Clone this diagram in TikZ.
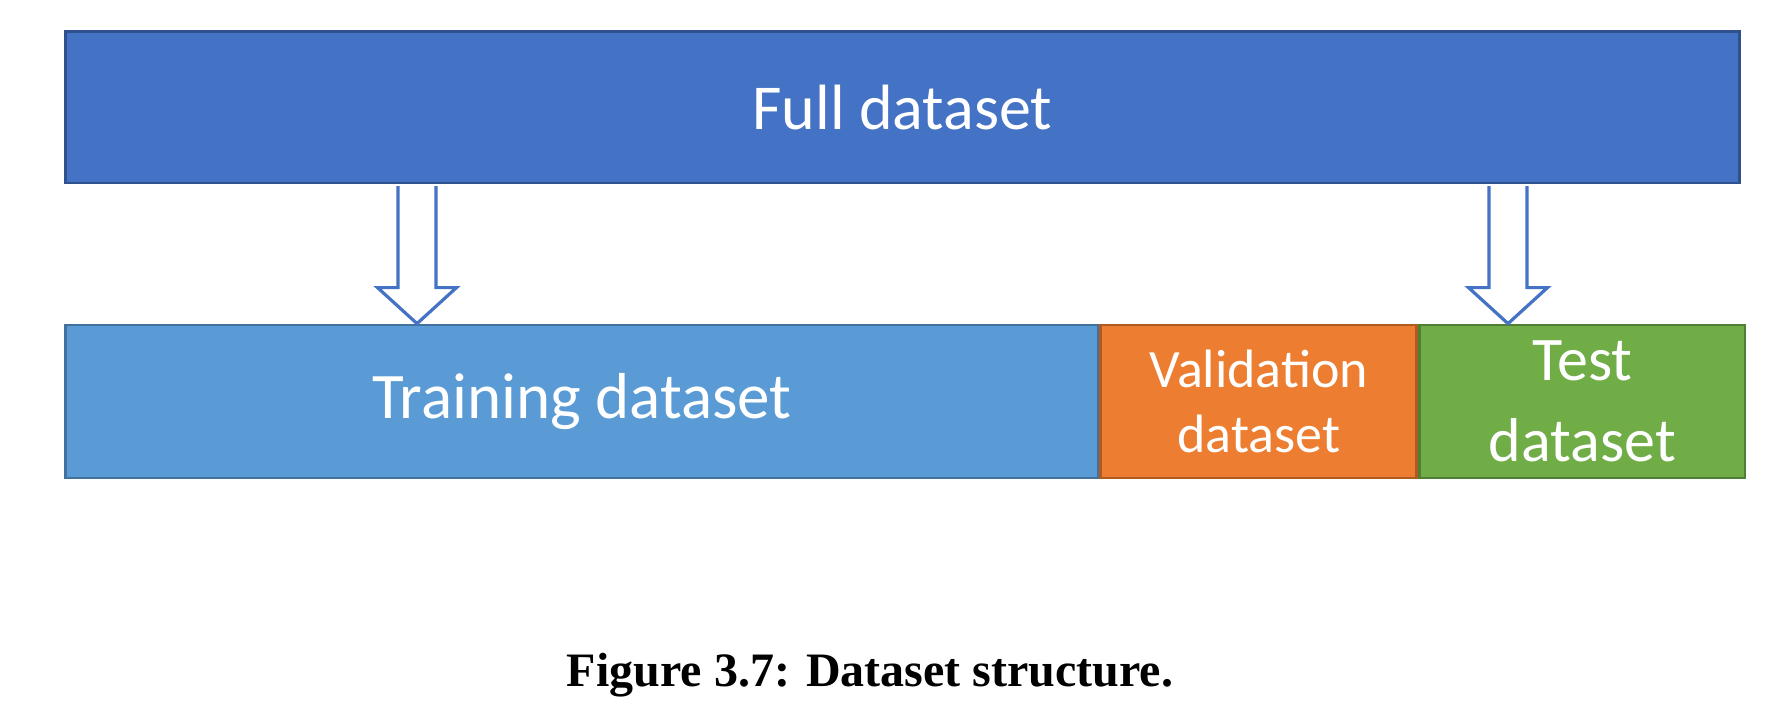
\documentclass[tikz,border=0pt]{standalone}
\usepackage{fontspec}
\setmainfont{Liberation Serif}
\newfontfamily\boxfont{Carlito}
\usetikzlibrary{positioning,calc}

\definecolor{fullblue}{HTML}{4472C4}
\definecolor{fullline}{HTML}{2F528F}
\definecolor{trainblue}{HTML}{5B9BD5}
\definecolor{trainline}{HTML}{41719C}
\definecolor{valorange}{HTML}{ED7D31}
\definecolor{valline}{HTML}{AE5A21}
\definecolor{testgreen}{HTML}{70AD47}
\definecolor{testline}{HTML}{507E32}

% hollow block arrow from #1 (top) to #2 (tip)
\newcommand{\blockarrow}[2]{%
  \draw[hollow arrow] ($(#1)+(-9.5pt,-0.8pt)$) -- ($(#2)+(-9.5pt,18pt)$)
    -- ($(#2)+(-19.75pt,18pt)$) -- (#2) -- ($(#2)+(19.75pt,18pt)$)
    -- ($(#2)+(9.5pt,18pt)$) -- ($(#1)+(9.5pt,-0.8pt)$);}

\begin{document}
\begin{tikzpicture}[line width=1.4pt]
    \tikzstyle{part}=[rectangle,inner sep=0pt,text=white,align=center,font=\boxfont]
    \tikzstyle{full part}=[part,fill=fullblue,draw=fullline,minimum width=837pt,minimum height=75.7pt,font=\boxfont\fontsize{32}{38}\selectfont];
    \tikzstyle{train part}=[part,fill=trainblue,draw=trainline,minimum width=516.25pt,minimum height=76.5pt,font=\boxfont\fontsize{32.5}{38}\selectfont];
    \tikzstyle{val part}=[part,fill=valorange,draw=valline,minimum width=158pt,minimum height=76.5pt,font=\boxfont\fontsize{27}{32.5}\selectfont];
    \tikzstyle{test part}=[part,fill=testgreen,draw=testline,minimum width=162.7pt,minimum height=76.5pt,font=\boxfont\fontsize{31}{40.5}\selectfont];
    \tikzstyle{hollow arrow}=[draw=fullblue,fill=white,line width=1.6pt,line join=miter]

    \useasboundingbox (0,0) rectangle (885.5pt,-358.5pt);

% Boxes
    \node[full part] (full) at (451.2pt,-53.65pt) {Full dataset};
    \node[train part] (train) at (290.9pt,-200.75pt) {Training dataset};
    \node[val part, right=0pt of train] (val) {Validation\\dataset};
    \node[test part, right=0pt of val] (test) {Test\\dataset};

% Arrows
    \coordinate (a1) at (208.5pt,0);
    \coordinate (a2) at (754pt,0);
    \coordinate (a1top) at (full.south -| a1);
    \coordinate (a1tip) at (train.north -| a1);
    \coordinate (a2top) at (full.south -| a2);
    \coordinate (a2tip) at (test.north -| a2);
    \blockarrow{a1top}{a1tip}
    \blockarrow{a2top}{a2tip}

% Caption
    \node[anchor=base,font=\bfseries\fontsize{24}{29}\selectfont] (caption) at (435pt,-343pt) {Figure 3.7: Dataset structure.};

\end{tikzpicture}
\end{document}
